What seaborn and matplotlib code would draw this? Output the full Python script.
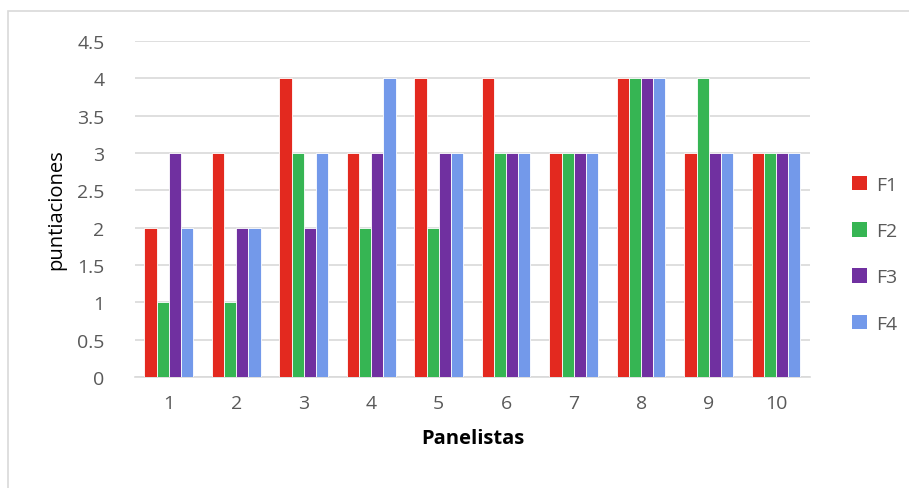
import numpy as np
import pandas as pd
import matplotlib
matplotlib.use("Agg")
import matplotlib.pyplot as plt
import seaborn as sns
from matplotlib.patches import Rectangle

panelistas = ["1", "2", "3", "4", "5", "6", "7", "8", "9", "10"]
f1 = [2, 3, 4, 3, 4, 4, 3, 4, 3, 3]
f2 = [1, 1, 3, 2, 2, 3, 3, 4, 4, 3]
f3 = [3, 2, 2, 3, 3, 3, 3, 4, 3, 3]
f4 = [2, 2, 3, 4, 3, 3, 3, 4, 3, 3]
series = ["F1", "F2", "F3", "F4"]
colors = ["#E3291F", "#36B553", "#7030A0", "#7399EA"]
yticks = [0, 0.5, 1, 1.5, 2, 2.5, 3, 3.5, 4, 4.5]

df = pd.DataFrame({
    "Panelistas": panelistas * 4,
    "serie": sum([[s] * len(panelistas) for s in series], []),
    "puntiaciones": f1 + f2 + f3 + f4,
})

sns.set_theme(style="white")
plt.rcParams["font.family"] = ["Open Sans", "DejaVu Sans"]

fig = plt.figure(figsize=(9.09, 4.89), dpi=100)
ax = fig.add_axes([0.1485, 0.227, 0.7425, 0.687])

sns.barplot(data=df, x="Panelistas", y="puntiaciones", hue="serie",
            order=panelistas, hue_order=series, palette=colors,
            width=0.72, gap=0, saturation=1, ax=ax,
            edgecolor="white", linewidth=0.6, legend=False, zorder=3)

ax.set_ylim(0, 4.5)
ax.set_yticks(yticks)
ax.set_yticklabels([f"{v:g}" for v in yticks])
ax.set_xlim(-0.5, len(panelistas) - 0.5)
ax.yaxis.grid(True, color="#D9D9D9", linewidth=1.2, zorder=0)
ax.set_axisbelow(True)
for s in ["top", "right", "left"]:
    ax.spines[s].set_visible(False)
ax.spines["bottom"].set_color("#D9D9D9")
ax.spines["bottom"].set_linewidth(1.2)
ax.tick_params(axis="both", length=0, labelsize=14, labelcolor="#595959")
ax.tick_params(axis="y", pad=22)
ax.tick_params(axis="x", pad=12)
ax.set_xlabel("Panelistas", fontsize=14.5, fontweight="bold", color="black", labelpad=12)
ax.set_ylabel("puntiaciones", fontsize=14.5, color="black", labelpad=8)

handles = [Rectangle((0, 0), 1, 1, facecolor=c, edgecolor="none") for c in colors]
fig.legend(handles, series, loc="center left", bbox_to_anchor=(0.918, 0.478),
           frameon=False, fontsize=14, labelcolor="#595959",
           handlelength=0.75, handleheight=0.75, handletextpad=0.5,
           labelspacing=1.45)

# outer chart frame
fig.patches.append(Rectangle((0.009, -0.01), 1.0, 0.986, transform=fig.transFigure,
                             fill=False, edgecolor="#D9D9D9", linewidth=1.2))

fig.savefig("out.png", dpi=100)
